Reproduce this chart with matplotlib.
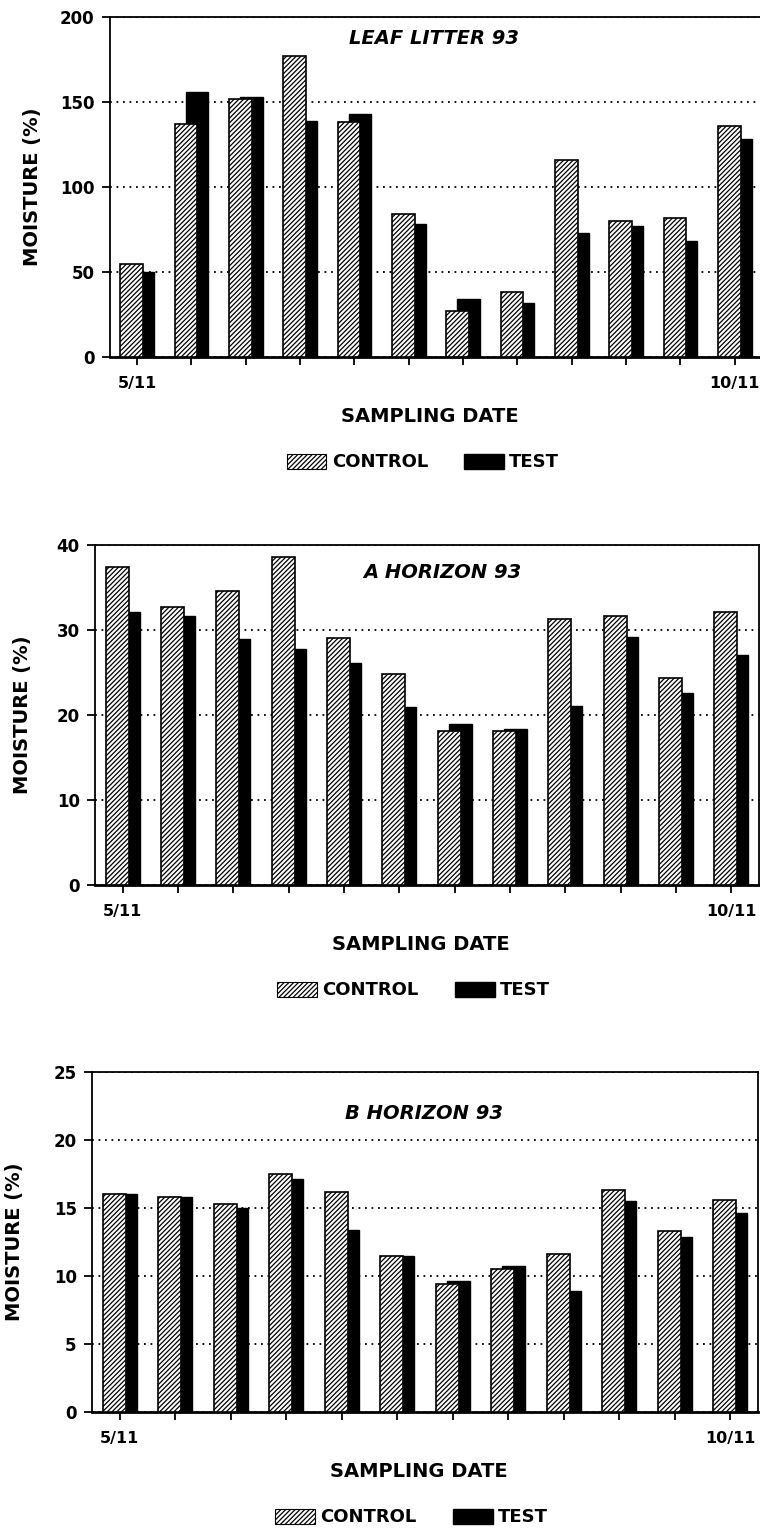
import numpy as np
import matplotlib.pyplot as plt
from matplotlib.patches import Patch

plt.rcParams['font.family'] = ['DejaVu Sans']
plt.rcParams['font.weight'] = 'bold'
plt.rcParams['hatch.linewidth'] = 0.9
plt.rcParams['hatch.color'] = 'black'

# sampling dates, only first and last are labelled
dates = ['5/11', '', '', '', '', '', '', '', '', '', '', '10/11']

litter_control = [55, 137, 152, 177, 138, 84, 27, 38, 116, 80, 82, 136]
litter_test = [50, 156, 153, 139, 143, 78, 34, 32, 73, 77, 68, 128]

a_control = [37.4, 32.7, 34.6, 38.6, 29.1, 24.8, 18.1, 18.1, 31.3, 31.7, 24.3, 32.1]
a_test = [32.1, 31.7, 29.0, 27.8, 26.1, 21.0, 19.0, 18.3, 21.1, 29.2, 22.6, 27.1]

b_control = [16.0, 15.8, 15.3, 17.5, 16.2, 11.5, 9.4, 10.5, 11.6, 16.3, 13.3, 15.6]
b_test = [16.0, 15.8, 15.0, 17.1, 13.4, 11.5, 9.6, 10.7, 8.9, 15.5, 12.9, 14.6]

HATCH = '///////'
WIDTH = 0.42
OFFSET = 0.10


def draw_panel(ax, title, control, test, ymax, ystep, title_x, title_y, ylab_x):
    x = np.arange(len(dates))
    ax.bar(x + OFFSET, test, WIDTH, color='black', edgecolor='black',
           linewidth=1.0, zorder=2)
    ax.bar(x - OFFSET, control, WIDTH, color='white', edgecolor='black',
           hatch=HATCH, linewidth=1.2, zorder=3)

    ax.set_xlim(-0.5, len(dates) - 0.5)
    ax.set_ylim(0, ymax)
    ax.set_yticks(np.arange(0, ymax + ystep / 2, ystep))
    ax.set_xticks(x)
    ax.set_xticklabels(dates, fontsize=11.5, fontweight='bold')
    ax.tick_params(axis='y', labelsize=12, length=6, width=1.3, pad=5)
    ax.tick_params(axis='x', length=6, width=1.3, pad=8)

    ax.set_axisbelow(True)
    ax.grid(axis='y', color='black', linestyle=(0, (1, 2.6)), linewidth=1.3)

    for side in ['left', 'top', 'right']:
        ax.spines[side].set_linewidth(1.3)
    ax.spines['bottom'].set_linewidth(2.0)

    ax.text(title_x, title_y, title, transform=ax.transAxes, ha='center',
            va='center', fontsize=14, fontweight='bold', style='italic')

    ax.set_ylabel('MOISTURE (%)', fontsize=14, fontweight='bold')
    ax.yaxis.set_label_coords(ylab_x, 0.5)
    ax.text(0.49, -0.175, 'SAMPLING DATE', transform=ax.transAxes,
            ha='center', va='center', fontsize=14, fontweight='bold')

    handles = [Patch(facecolor='white', edgecolor='black', hatch=HATCH,
                     linewidth=0.8, label='CONTROL'),
               Patch(facecolor='black', edgecolor='black', label='TEST')]
    ax.legend(handles=handles, loc='center', bbox_to_anchor=(0.48, -0.31),
              ncol=2, frameon=False, handlelength=2.2,
              handleheight=0.9, handletextpad=0.3, columnspacing=2.0,
              prop={'weight': 'bold', 'size': 13})


W, H = 760, 1531
fig = plt.figure(figsize=(W / 100, H / 100), dpi=100)

# axes boxes in pixels: left, right, top, bottom
boxes = [(110, 762, 17, 357), (95, 759, 545, 885), (92, 758, 1072, 1412)]
axes = [fig.add_axes([l / W, 1 - b / H, (r - l) / W, (b - t) / H])
        for l, r, t, b in boxes]

draw_panel(axes[0], 'LEAF LITTER 93', litter_control, litter_test,
           200, 50, 0.497, 0.938, -0.104)
draw_panel(axes[1], 'A HORIZON 93', a_control, a_test,
           40, 10, 0.523, 0.92, -0.095)
draw_panel(axes[2], 'B HORIZON 93', b_control, b_test,
           25, 5, 0.498, 0.879, -0.102)

fig.savefig('out.png', dpi=100, facecolor='white')
